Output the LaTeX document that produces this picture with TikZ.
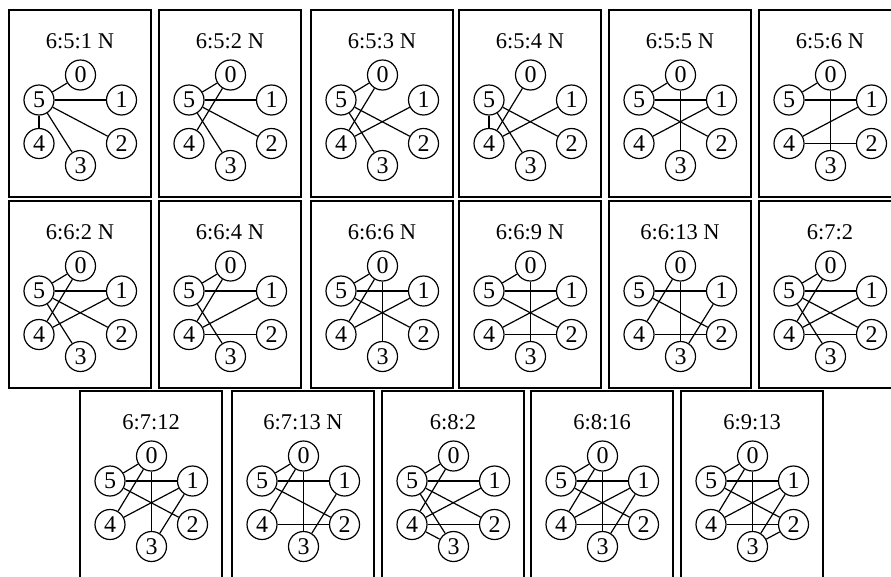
\documentclass[tikz,border=0pt]{standalone}
\usepackage{fontspec}
\setmainfont{Liberation Serif}
\tikzset{
  gframe/.style={draw, line width=1.6pt, minimum width=142pt, minimum height=187pt, inner sep=0pt},
  gtitle/.style={font=\fontsize{22.5}{24}\selectfont, inner sep=0pt},
  gvert/.style={draw, circle, line width=1.2pt, minimum size=30pt, inner sep=0pt, font=\fontsize{24}{26}\selectfont},
  glink/.style={line width=1.2pt},
}
\newcommand{\gbox}[5]{%
  \node[gframe] (#1) at (#2+71,#3+93.5) {};
  \node[gtitle] (#1t) at (#2+71,#3+31) {#4};
  \node[gvert] (#1-0) at (#2+71.5,#3+65) {0};
  \node[gvert] (#1-5) at (#2+30,#3+90) {5};
  \node[gvert] (#1-1) at (#2+112.5,#3+90) {1};
  \node[gvert] (#1-4) at (#2+30,#3+133.5) {4};
  \node[gvert] (#1-2) at (#2+112.5,#3+133.5) {2};
  \node[gvert] (#1-3) at (#2+71.5,#3+155.5) {3};
  \foreach \a/\b in {#5} {\draw[glink] (#1-\a) -- (#1-\b);}
}
\begin{document}
\begin{tikzpicture}[x=1pt,y=-1pt]
\useasboundingbox (0,0) rectangle (891,576);
\clip (0,0) rectangle (891,576);
\fill[white] (0,0) rectangle (891,576);
% row 1
\gbox{a1}{9}{10}{6:5:1 N}{5/0,5/1,5/2,5/3,5/4}
\gbox{a2}{159}{10}{6:5:2 N}{5/0,5/1,5/2,5/3,0/4}
\gbox{a3}{311}{10}{6:5:3 N}{5/0,0/4,4/1,5/2,5/3}
\gbox{a4}{459}{10}{6:5:4 N}{5/4,0/4,4/1,5/2,5/3}
\gbox{a5}{609}{10}{6:5:5 N}{5/0,5/1,0/3,5/2,4/1}
\gbox{a6}{759}{10}{6:5:6 N}{5/0,5/1,0/3,4/1,4/2}
% row 2
\gbox{b1}{9}{201}{6:6:2 N}{5/0,5/1,0/4,4/1,5/2,5/3}
\gbox{b2}{159}{201}{6:6:4 N}{5/0,5/1,0/4,4/1,4/2,5/3}
\gbox{b3}{311}{201}{6:6:6 N}{5/0,5/1,0/4,0/3,4/1,5/2}
\gbox{b4}{459}{201}{6:6:9 N}{5/0,5/1,0/3,5/2,4/1,4/2}
\gbox{b5}{609}{201}{6:6:13 N}{5/1,0/4,0/3,5/2,4/2,1/3}
\gbox{b6}{759}{201}{6:7:2}{5/0,5/1,0/4,4/1,5/2,5/3,4/2}
% row 3
\gbox{c1}{80}{391}{6:7:12}{5/0,5/1,0/4,0/3,4/1,5/2,1/3}
\gbox{c2}{232}{391}{6:7:13 N}{5/0,5/1,0/4,0/3,5/2,4/2,1/3}
\gbox{c3}{382}{391}{6:8:2}{5/0,5/1,0/4,4/1,5/2,5/3,4/2,4/3}
\gbox{c4}{531}{391}{6:8:16}{5/0,5/1,0/4,0/3,5/2,4/1,4/2,1/3}
\gbox{c5}{681}{391}{6:9:13}{5/0,5/1,0/4,0/3,5/2,4/1,4/2,1/3,3/2}
\end{tikzpicture}
\end{document}
